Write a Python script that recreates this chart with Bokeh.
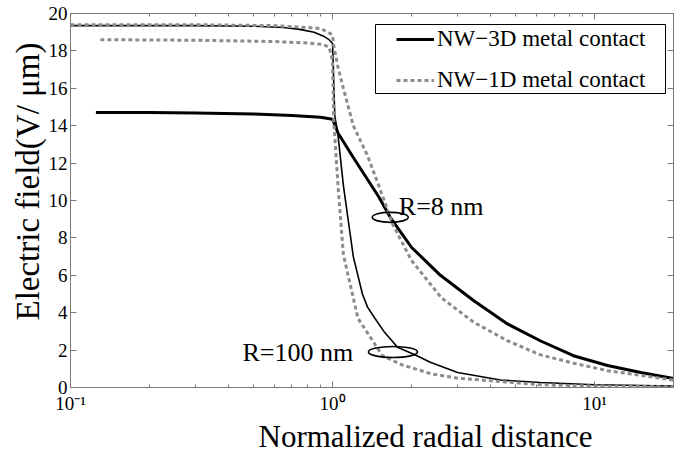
from bokeh.plotting import figure
from bokeh.models import (LogAxis, LinearAxis, FixedTicker, CustomJSTickFormatter,
                          Legend, LegendItem, BoxAnnotation, Title)
from bokeh.core.properties import value
from bokeh.embed import file_html
from bokeh.resources import INLINE

FONT = "Liberation Serif"

# ---- data ----
# R = 8 nm, NW-3D metal contact (thick black)
x_r8_3d = [0.125, 0.2, 0.3, 0.5, 0.7, 0.9, 1.0, 1.05, 1.2, 1.5, 1.66, 2.0, 2.58, 3.45, 4.65, 6.2, 8.3, 11.2, 15, 20]
y_r8_3d = [14.7, 14.7, 14.68, 14.62, 14.55, 14.45, 14.35, 13.6, 12.3, 10.2, 9.1, 7.5, 6.0, 4.65, 3.4, 2.5, 1.7, 1.18, 0.8, 0.48]

# R = 8 nm, NW-1D metal contact (grey dotted, outer)
x_r8_1d = [0.1, 0.3, 0.6, 0.8, 0.9, 0.96, 1.0, 1.01, 1.05, 1.1, 1.2, 1.36, 1.5, 1.7, 2.0, 2.6, 3.45, 4.65, 6.2, 8.3, 11.2, 20]
y_r8_1d = [19.4, 19.4, 19.35, 19.25, 19.2, 19.0, 18.85, 18.3, 17.1, 16.0, 14.0, 12.4, 10.8, 8.7, 6.8, 4.8, 3.5, 2.5, 1.75, 1.3, 0.9, 0.4]

# R = 100 nm, NW-3D metal contact (thin black)
x_r100_3d = [0.1, 0.3, 0.5, 0.65, 0.75, 0.85, 0.92, 0.97, 1.0, 1.02, 1.045, 1.1, 1.2, 1.3, 1.36, 1.45, 1.57, 1.77, 2.1, 2.36, 3.0, 4.37, 6.2, 10, 20]
y_r100_3d = [19.35, 19.35, 19.32, 19.25, 19.15, 19.0, 18.8, 18.6, 18.4, 14.5, 13.7, 10.8, 7.0, 5.0, 4.3, 3.7, 3.0, 2.15, 1.7, 1.35, 0.8, 0.4, 0.27, 0.15, 0.08]

# R = 100 nm, NW-1D metal contact (grey dotted, inner)
x_r100_1d = [0.13, 0.3, 0.6, 0.8, 0.92, 0.97, 1.0, 1.01, 1.05, 1.1, 1.25, 1.55, 1.85, 2.4, 3.0, 6.2, 10, 20]
y_r100_1d = [18.6, 18.57, 18.5, 18.42, 18.35, 18.2, 17.5, 14.3, 10.7, 7.1, 3.7, 1.7, 1.2, 0.72, 0.5, 0.15, 0.08, 0.04]

legend_labels = ["NW\u22123D metal contact", "NW\u22121D metal contact"]
x_ticks = [0.1, 1, 10]
x_tick_labels = ["10\u207b\u00b9", "10\u2070", "10\u00b9"]
x_minor = [0.2, 0.3, 0.4, 0.5, 0.6, 0.7, 0.8, 0.9, 2, 3, 4, 5, 6, 7, 8, 9, 20]
y_ticks = [0, 2, 4, 6, 8, 10, 12, 14, 16, 18, 20]
x_label = "Normalized radial distance"
y_label = "Electric field(V/ \u03bcm)"

ann_text = ["R=8 nm", "R=100 nm"]
ann_text_x = [1.79, 0.453]
ann_text_y = [9.68, 1.87]
ell_x = [1.66, 1.70]
ell_y = [9.1, 1.9]
ell_w = [36, 49]
ell_h = [10, 11]

AX = "#7a7a7a"
GREY = "#8c8c8c"

p = figure(width=680, height=453, x_axis_type="log", x_range=(0.1, 20), y_range=(0, 20),
           output_backend="svg", toolbar_location=None,
           min_border_left=70, min_border_right=7, min_border_top=13, min_border_bottom=66)
p.background_fill_color = "white"
p.border_fill_color = "white"
p.xgrid.visible = False
p.ygrid.visible = False
p.outline_line_color = AX
p.outline_line_width = 1

# curves
r100_3d = p.line(x_r100_3d, y_r100_3d, line_color="black", line_width=1.6)
r8_3d = p.line(x_r8_3d, y_r8_3d, line_color="black", line_width=3)
r8_1d = p.line(x_r8_1d, y_r8_1d, line_color=GREY, line_width=3, line_dash="4 3")
r100_1d = p.line(x_r100_1d, y_r100_1d, line_color=GREY, line_width=3, line_dash="4 3")

# annotations
p.ellipse(x=ell_x, y=ell_y, width=ell_w, height=ell_h, width_units="screen", height_units="screen",
          fill_color=None, line_color="black", line_width=1.6)
p.text(x=ann_text_x, y=ann_text_y, text=ann_text, text_font=value(FONT), text_font_size="26px",
       text_baseline="alphabetic", text_align="left", text_color="black")

# axes
def style(ax):
    ax.axis_line_color = AX
    ax.major_tick_line_color = AX
    ax.minor_tick_line_color = AX
    ax.major_tick_out = 0
    ax.major_tick_in = 6
    ax.minor_tick_out = 0
    ax.minor_tick_in = 3
    ax.major_label_text_font = FONT
    ax.major_label_text_font_size = "19px"
    ax.major_label_text_color = "black"

xa = p.xaxis[0]
xa.ticker = FixedTicker(ticks=x_ticks, minor_ticks=x_minor)
xa.major_label_overrides = {t: l for t, l in zip(x_ticks, x_tick_labels)}
style(xa)
xa.major_label_standoff = 5

ya = p.yaxis[0]
ya.ticker = FixedTicker(ticks=y_ticks, minor_ticks=[])
style(ya)
ya.major_label_standoff = 3

top = LogAxis(ticker=FixedTicker(ticks=x_ticks, minor_ticks=x_minor),
              formatter=CustomJSTickFormatter(code="return ''"))
style(top)
top.major_label_standoff = 0
p.add_layout(top, "above")
right = LinearAxis(ticker=FixedTicker(ticks=y_ticks, minor_ticks=[]),
                   formatter=CustomJSTickFormatter(code="return ''"))
style(right)
right.major_label_standoff = 0
p.add_layout(right, "right")

# axis titles (offset like the reference)
p.add_layout(Title(text=x_label, align="left", offset=188, standoff=0,
                   text_font=FONT, text_font_size="31px", text_font_style="normal",
                   text_color="black"), "below")
p.add_layout(Title(text=y_label, align="left", offset=67, standoff=0,
                   text_font=FONT, text_font_size="33px", text_font_style="normal",
                   text_color="black"), "left")

# legend frame + legend
box = BoxAnnotation(left=305, right=595, bottom=294, top=363,
                    left_units="screen", right_units="screen", bottom_units="screen", top_units="screen",
                    fill_color="white", fill_alpha=1.0, line_color="black", line_width=1, line_alpha=1.0)
p.add_layout(box)
legend = Legend(items=[LegendItem(label=legend_labels[0], renderers=[r8_3d]),
                       LegendItem(label=legend_labels[1], renderers=[r8_1d])],
                location=(326, 294), padding=5, spacing=15, glyph_width=38, glyph_height=26,
                label_height=26, label_standoff=3, border_line_color=None, background_fill_alpha=0,
                label_text_font=FONT, label_text_font_size="23px", label_text_color="black",
                margin=0)
p.add_layout(legend)

open("out.html", "w").write(file_html(p, INLINE))
